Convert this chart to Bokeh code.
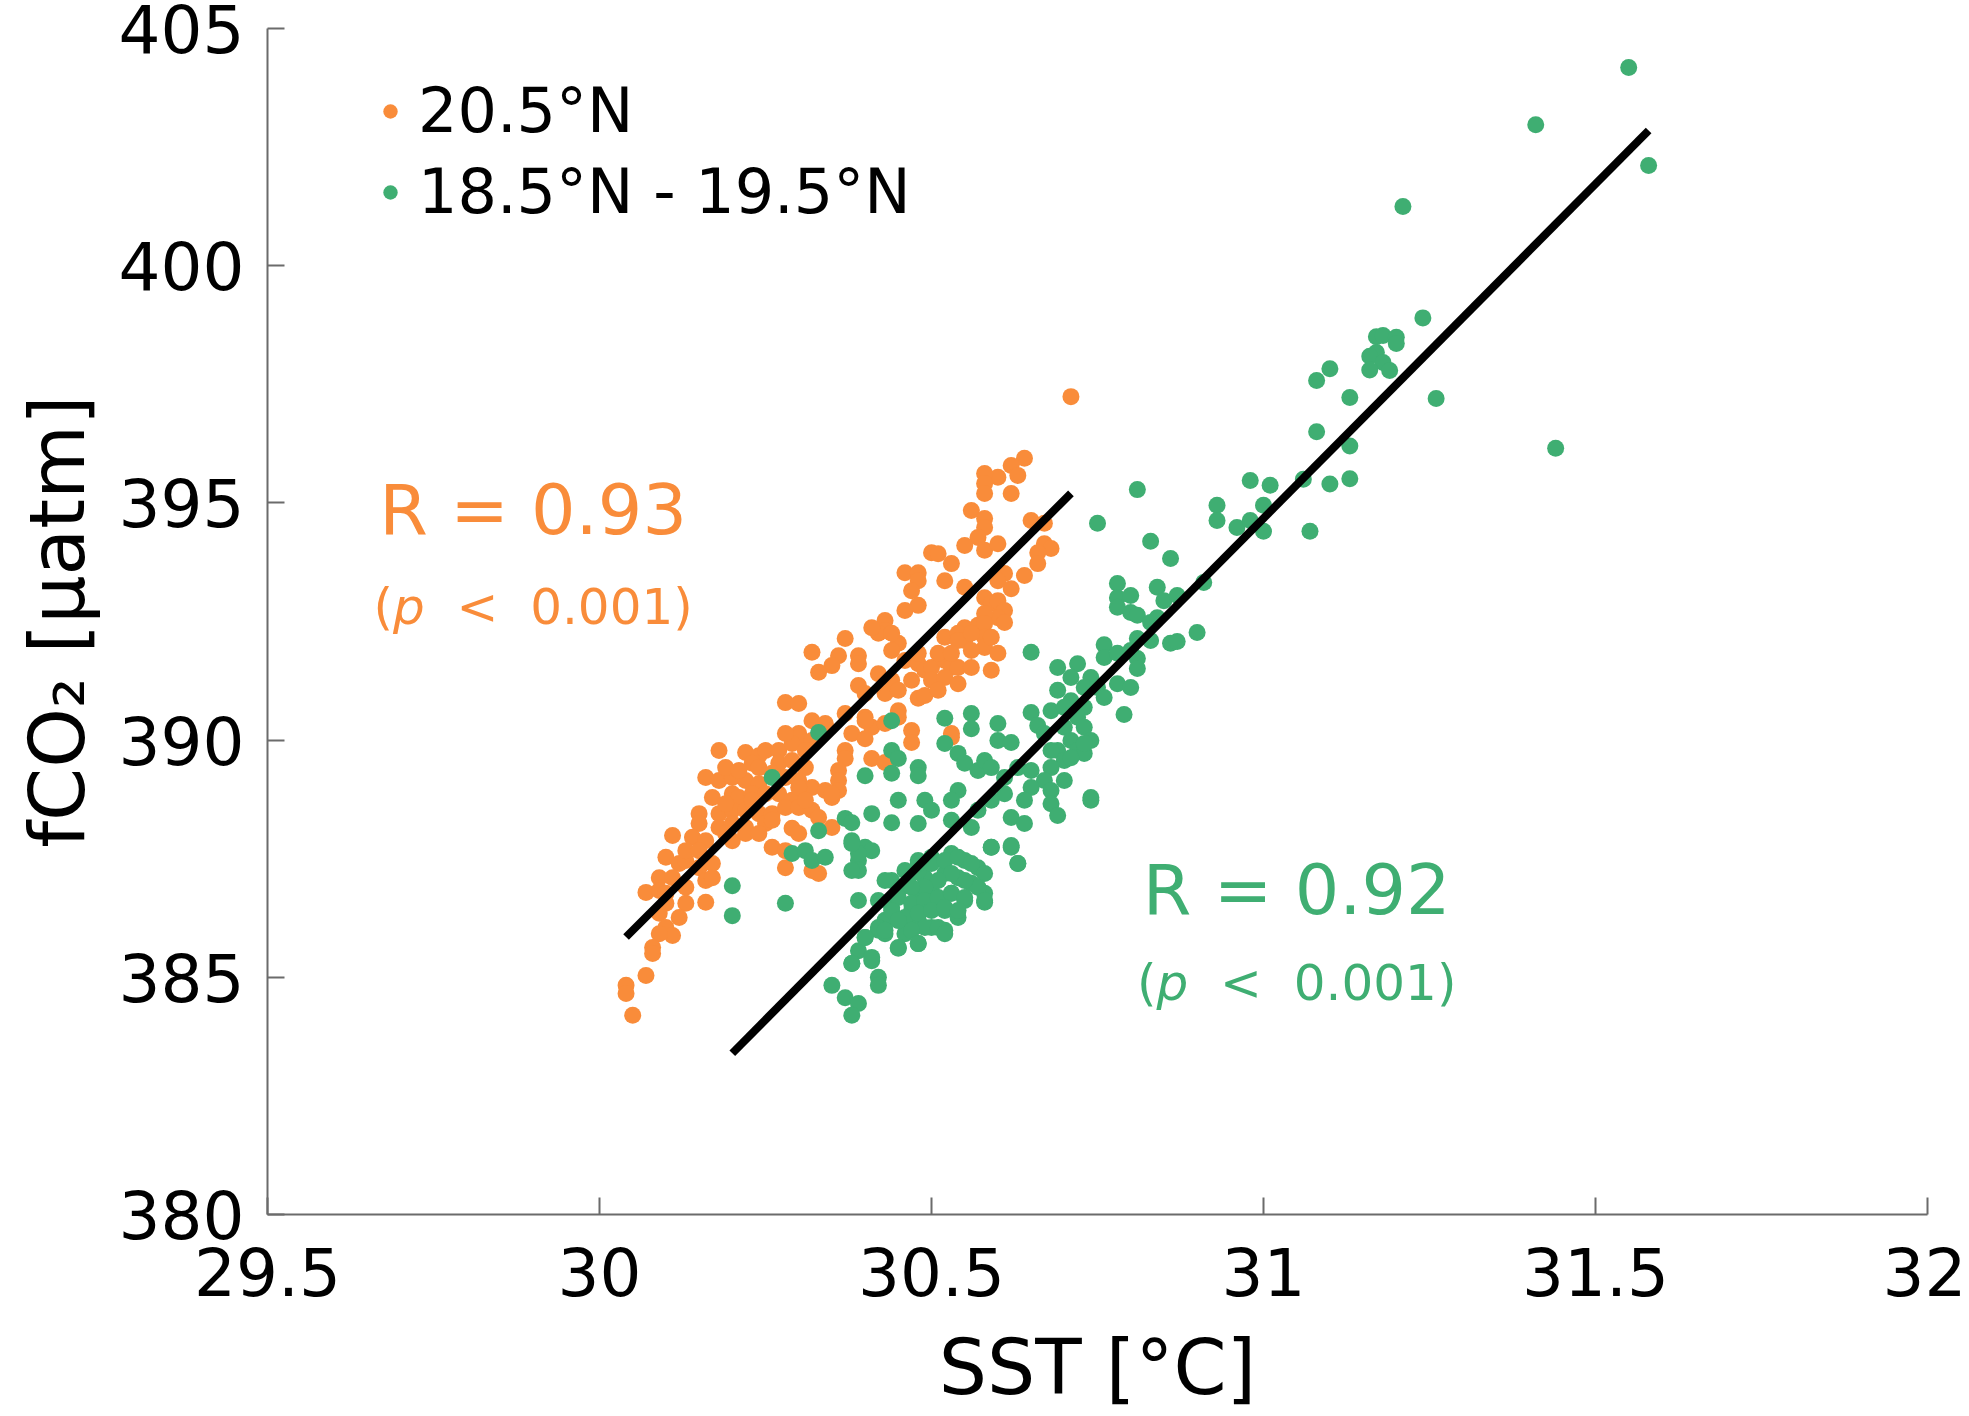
from bokeh.plotting import figure
from bokeh.models import FixedTicker, Legend, LegendItem, Label, ColumnDataSource, Range1d
from bokeh.embed import file_html
from bokeh.resources import INLINE

# ---------------- data ----------------
series_names = ["20.5°N", "18.5°N - 19.5°N"]

north_sst = [30.71, 30.64, 30.62, 30.63, 30.60, 30.58, 30.58, 30.58, 30.62, 30.56, 30.58, 30.58, 30.65, 30.67,
             30.57, 30.55, 30.58, 30.60, 30.67, 30.68, 30.66, 30.66, 30.50, 30.51, 30.53, 30.52, 30.64, 30.61,
             30.60, 30.62, 30.55, 30.46, 30.48, 30.48, 30.47, 30.48, 30.46, 30.58, 30.59, 30.60, 30.61, 30.60,
             30.58, 30.55, 30.57, 30.58, 30.61, 30.43, 30.43, 30.42, 30.45, 30.52, 30.54, 30.55, 30.58, 30.58,
             30.54, 30.37, 30.32, 30.36, 30.39, 30.39, 30.35, 30.33, 30.44, 30.46, 30.48, 30.49, 30.50, 30.52,
             30.53, 30.54, 30.59, 30.42, 30.44, 30.47, 30.50, 30.52, 30.39, 30.40, 30.43, 30.45, 30.48, 30.49,
             30.28, 30.30, 30.37, 30.40, 30.41, 30.45, 30.47, 30.53, 30.30, 30.34, 30.40, 30.43, 30.45, 30.34,
             30.30, 30.32, 30.38, 30.40, 30.37, 30.37, 30.36, 30.36, 30.36, 30.35, 30.41, 30.47, 30.43, 30.18,
             30.22, 30.24, 30.25, 30.27, 30.29, 30.31, 30.23, 30.24, 30.27, 30.29, 30.31, 30.16, 30.18, 30.20,
             30.22, 30.24, 30.28, 30.30, 30.32, 30.17, 30.20, 30.21, 30.23, 30.25, 30.27, 30.29, 30.34, 30.35,
             30.15, 30.18, 30.20, 30.22, 30.24, 30.26, 30.28, 30.30, 30.32, 30.33, 30.35, 30.15, 30.18, 30.20,
             30.22, 30.25, 30.26, 30.29, 30.20, 30.22, 30.14, 30.16, 30.11, 30.30, 30.26, 30.28, 30.28, 30.32,
             30.33, 30.10, 30.12, 30.13, 30.15, 30.17, 30.09, 30.11, 30.16, 30.17, 30.07, 30.09, 30.10, 30.13,
             30.16, 30.09, 30.12, 30.10, 30.11, 30.09, 30.08, 30.08, 30.07, 30.04, 30.04, 30.05, 30.53,
             30.19, 30.21, 30.26, 30.30, 30.23, 30.19, 30.31, 30.24, 30.19, 30.13, 30.15, 30.13, 30.10, 30.28,
             30.32, 30.41, 30.44, 30.48, 30.51, 30.53, 30.56, 30.56, 30.51, 30.54, 30.56, 30.59, 30.60]
north_fco2 = [397.24, 395.94, 395.79, 395.58, 395.54, 395.62, 395.41, 395.20, 395.20, 394.84, 394.67, 394.48, 394.63, 394.57,
              394.27, 394.10, 394.00, 394.14, 394.14, 394.04, 393.95, 393.72, 393.95, 393.93, 393.72, 393.36, 393.47, 393.51,
              393.36, 393.19, 393.22, 393.53, 393.53, 393.36, 393.15, 392.84, 392.73, 393.00, 392.88, 392.94, 392.73, 392.58,
              392.67, 392.37, 392.42, 392.46, 392.48, 392.52, 392.31, 392.25, 392.04, 392.17, 392.25, 392.10, 392.17, 391.95,
              392.10, 392.14, 391.85, 391.78, 391.78, 391.61, 391.57, 391.43, 391.89, 391.68, 391.61, 391.47, 391.53, 391.68,
              391.53, 391.53, 391.47, 391.40, 391.26, 391.26, 391.26, 391.32, 391.15, 390.98, 390.98, 391.05, 390.88, 390.94,
              390.79, 390.77, 390.56, 390.48, 390.27, 390.62, 390.20, 390.14, 390.14, 390.35, 390.41, 390.35, 390.48, 390.31,
              390.06, 389.99, 390.14, 390.03, 389.78, 389.61, 389.36, 389.15, 388.94, 388.79, 389.61, 389.95, 389.53, 389.78,
              389.74, 389.67, 389.78, 389.78, 389.93, 389.78, 389.51, 389.42, 389.51, 389.57, 389.42, 389.21, 389.15, 389.21,
              389.15, 389.08, 389.21, 389.15, 389.00, 388.79, 388.87, 388.79, 388.87, 388.87, 388.87, 388.73, 388.94, 388.87,
              388.45, 388.45, 388.52, 388.52, 388.45, 388.45, 388.58, 388.58, 388.52, 388.37, 388.16, 388.24, 388.16, 388.24,
              388.16, 388.24, 388.31, 388.14, 387.88, 388.03, 387.95, 387.88, 387.99, 388.03, 387.74, 387.67, 387.31, 387.25,
              387.19, 387.53, 387.40, 387.46, 387.31, 387.40, 387.10, 387.10, 387.04, 387.10, 386.79, 386.83, 386.56, 386.56,
              386.58, 386.35, 386.26, 386.05, 385.88, 385.92, 385.63, 385.50, 385.04, 384.83, 384.66, 384.20, 390.06,
              389.42, 389.36, 389.30, 389.00, 388.73, 388.66, 388.73, 388.03, 388.03, 387.67, 387.67, 386.90, 386.77, 390.14,
              390.41, 392.37, 392.25, 391.83, 391.83, 391.83, 391.89, 391.53, 391.05, 391.19, 392.25, 392.17, 391.83]

south_sst = [31.55, 31.41, 31.58, 31.21, 31.24, 31.17, 31.18, 31.20, 31.20, 31.17, 31.16, 31.18, 31.16, 31.19,
             31.10, 31.08, 31.13, 31.26, 31.08, 31.13, 31.44, 30.98, 31.01, 31.06, 31.10, 31.13, 30.93, 30.93,
             31.00, 30.96, 30.98, 31.00, 31.07, 30.81, 30.75, 30.83, 30.86, 30.78, 30.78, 30.80, 30.78, 30.80,
             30.81, 30.84, 30.85, 30.87, 30.91, 30.83, 30.84, 30.83, 30.86, 30.87, 30.90, 30.81, 30.76, 30.76,
             30.78, 30.80, 30.81, 30.81, 30.69, 30.72, 30.71, 30.74, 30.73, 30.75, 30.78, 30.80, 30.69, 30.76,
             30.71, 30.73, 30.79, 30.68, 30.72, 30.70, 30.73, 30.74, 30.71, 30.69, 30.72, 30.73, 30.70, 30.68,
             30.70, 30.74, 30.52, 30.56, 30.56, 30.60, 30.44, 30.33, 30.65, 30.66, 30.70, 30.52, 30.60, 30.62,
             30.67, 30.68, 30.73, 30.71, 30.44, 30.45, 30.44, 30.48, 30.48, 30.40, 30.54, 30.55, 30.57, 30.58,
             30.59, 30.61, 30.63, 30.65, 30.67, 30.65, 30.68, 30.74, 30.64, 30.61, 30.59, 30.57, 30.68, 30.69,
             30.62, 30.64, 30.54, 30.53, 30.49, 30.50, 30.48, 30.53, 30.56, 30.41, 30.44, 30.45, 30.37, 30.38,
             30.33, 30.38, 30.40, 30.41, 30.39, 30.39, 30.29, 30.31, 30.32, 30.34, 30.59, 30.62, 30.63, 30.44,
             30.39, 30.20, 30.28, 30.20, 30.48, 30.50, 30.53, 30.55, 30.57, 30.58, 30.47, 30.49, 30.52, 30.54,
             30.56, 30.58, 30.45, 30.48, 30.50, 30.53, 30.55, 30.58, 30.44, 30.47, 30.49, 30.52, 30.54, 30.45,
             30.48, 30.50, 30.52, 30.43, 30.42, 30.43, 30.46, 30.48, 30.45, 30.40, 30.39, 30.38, 30.41, 30.35,
             30.42, 30.42, 30.37, 30.39, 30.38, 30.42, 30.26, 30.65,
             30.48, 30.50, 30.52, 30.54, 30.56, 30.57, 30.55, 30.53, 30.51, 30.49, 30.47, 30.45, 30.47, 30.49,
             30.51, 30.53, 30.55, 30.58, 30.44, 30.46, 30.48, 30.50, 30.52, 30.54, 30.49, 30.51, 30.52, 30.47,
             30.45, 30.39, 30.38, 30.38, 30.43, 30.62, 30.59, 30.63, 30.42, 30.43, 30.45, 30.48, 30.41, 30.38,
             30.40, 30.48, 30.46]
south_fco2 = [404.18, 402.97, 402.11, 401.25, 398.90, 398.50, 398.53, 398.49, 398.36, 398.17, 398.09, 397.96, 397.80, 397.79,
              397.83, 397.58, 397.22, 397.20, 396.50, 396.20, 396.15, 395.47, 395.37, 395.50, 395.40, 395.51, 394.95, 394.63,
              394.95, 394.48, 394.63, 394.40, 394.40, 395.28, 394.57, 394.19, 393.83, 393.30, 393.00, 393.05, 392.80, 392.69,
              392.63, 393.22, 392.94, 393.05, 393.32, 392.48, 392.58, 392.10, 392.04, 392.08, 392.27, 392.14, 392.01, 391.74,
              391.83, 391.89, 391.72, 391.51, 391.53, 391.61, 391.32, 391.32, 391.11, 391.11, 391.19, 391.11, 391.05, 390.90,
              390.83, 390.69, 390.54, 390.62, 390.48, 390.27, 390.27, 389.99, 389.99, 389.78, 389.78, 389.72, 389.57, 389.42,
              389.15, 388.79, 390.46, 390.56, 390.24, 390.35, 390.41, 390.16, 390.58, 390.31, 390.69, 389.93, 389.99, 389.95,
              390.14, 389.78, 389.93, 389.63, 389.78, 389.61, 389.30, 389.42, 389.25, 389.25, 389.72, 389.51, 389.36, 389.57,
              389.42, 389.21, 389.42, 389.36, 389.15, 389.00, 388.94, 388.73, 388.73, 388.87, 388.73, 388.52, 388.66, 388.41,
              388.37, 388.24, 388.94, 388.73, 388.73, 388.52, 388.24, 388.31, 388.16, 388.45, 388.26, 388.73, 388.35, 388.26,
              388.09, 387.88, 387.74, 387.67, 387.46, 387.25, 387.61, 387.67, 387.46, 387.53, 387.74, 387.74, 387.40, 387.04,
              386.62, 386.93, 386.56, 386.30, 387.46, 387.53, 387.61, 387.46, 387.31, 387.19, 387.19, 387.10, 387.19, 387.10,
              386.98, 386.77, 386.83, 386.77, 386.83, 386.77, 386.62, 386.58, 386.47, 386.41, 386.47, 386.41, 386.26, 386.20,
              386.20, 386.05, 385.99, 386.20, 385.99, 385.92, 385.92, 385.71, 385.61, 385.84, 385.56, 385.29, 385.35, 384.83,
              385.00, 384.83, 384.57, 384.45, 384.20, 386.62, 389.21, 391.85,
              387.25, 387.40, 387.46, 387.53, 387.40, 386.90, 387.04, 387.19, 387.04, 386.90, 386.90, 386.68, 386.56, 386.62,
              386.68, 386.77, 386.68, 386.62, 386.41, 386.26, 386.35, 386.41, 386.47, 386.41, 386.05, 386.05, 385.92, 385.99,
              386.20, 387.61, 387.25, 387.82, 387.04, 387.78, 387.74, 387.40, 386.05, 385.99, 385.63, 385.71, 385.42, 385.29,
              385.84, 387.40, 387.25]

# regression line end points (SST, fCO2)
north_fit_sst = [30.04, 30.71]
north_fit_fco2 = [385.85, 395.20]
south_fit_sst = [30.20, 31.58]
south_fit_fco2 = [383.40, 402.85]

north_stats = ["R = 0.93", "p", "\u00a0\u00a0<\u00a0\u00a00.001)"]
south_stats = ["R = 0.92", "p", "\u00a0\u00a0<\u00a0\u00a00.001)"]

x_ticks = [29.5, 30.0, 30.5, 31.0, 31.5, 32.0]
x_tick_labels = ["29.5", "30", "30.5", "31", "31.5", "32"]
y_ticks = [380, 385, 390, 395, 400, 405]
y_tick_labels = ["380", "385", "390", "395", "400", "405"]

# ---------------- style ----------------
ORANGE = "#F98C3A"
GREEN = "#3FAE72"
FONT = "DejaVu Sans"
AXIS_COLOR = "#6b6b6b"

p = figure(width=1966, height=1414, output_backend="svg", toolbar_location=None,
           x_range=Range1d(29.5, 32.0), y_range=Range1d(380, 405),
           min_border_left=267, min_border_right=39, min_border_top=28, min_border_bottom=200)
p.grid.visible = False
p.outline_line_color = None
p.background_fill_color = "white"
p.border_fill_color = "white"

src_n = ColumnDataSource(dict(x=north_sst, y=north_fco2))
src_s = ColumnDataSource(dict(x=south_sst, y=south_fco2))

r_n = p.scatter("x", "y", source=src_n, size=17, fill_color=ORANGE, line_color=None)
r_s = p.scatter("x", "y", source=src_s, size=17, fill_color=GREEN, line_color=None)

p.line(north_fit_sst, north_fit_fco2, line_color="black", line_width=8)
p.line(south_fit_sst, south_fit_fco2, line_color="black", line_width=8)

for ax in (p.xaxis[0], p.yaxis[0]):
    ax.axis_line_color = AXIS_COLOR
    ax.axis_line_width = 2
    ax.major_tick_line_color = AXIS_COLOR
    ax.major_tick_line_width = 2
    ax.major_tick_in = 17
    ax.major_tick_out = 0
    ax.minor_tick_line_color = None
    ax.major_label_text_font = FONT
    ax.major_label_text_font_size = "66px"
    ax.major_label_text_color = "black"
    ax.axis_label_text_font = FONT
    ax.axis_label_text_font_size = "76px"
    ax.axis_label_text_font_style = "normal"
    ax.axis_label_text_color = "black"

p.xaxis.ticker = FixedTicker(ticks=x_ticks)
p.xaxis.major_label_overrides = {t: l for t, l in zip(x_ticks, x_tick_labels)}
p.yaxis.ticker = FixedTicker(ticks=y_ticks)
p.yaxis.major_label_overrides = {t: l for t, l in zip(y_ticks, y_tick_labels)}
p.xaxis.axis_label = "SST [°C]"
p.yaxis.axis_label = "fCO₂ [μatm]"
p.xaxis.major_label_standoff = 32
p.xaxis.axis_label_standoff = 24
p.yaxis.major_label_standoff = 23
p.yaxis.axis_label_standoff = 14

legend = Legend(items=[LegendItem(label=series_names[0], renderers=[r_n]),
                       LegendItem(label=series_names[1], renderers=[r_s])],
                location=(105, 986), orientation="vertical", padding=0, margin=0, spacing=8,
                glyph_width=36, glyph_height=70, label_height=70, label_standoff=10,
                label_text_font=FONT, label_text_font_size="62px", label_text_color="black",
                border_line_color=None, background_fill_alpha=0)
p.add_layout(legend)


def stats_block(cx, cy_r, cy_p, texts, color):
    p.add_layout(Label(x=cx, y=cy_r, text=texts[0], text_align="center", text_baseline="middle",
                       text_font=FONT, text_font_size="70px", text_color=color))
    fs = 50
    w_open = 0.390 * fs
    w_p = 0.635 * fs
    w_rest = 5.362 * fs
    start = -(w_open + w_p + w_rest) / 2
    p.add_layout(Label(x=cx, y=cy_p, x_offset=start, text="(", text_align="left", text_baseline="middle",
                       text_font=FONT, text_font_size=f"{fs}px", text_color=color))
    p.add_layout(Label(x=cx, y=cy_p, x_offset=start + w_open, text=texts[1], text_align="left",
                       text_baseline="middle", text_font=FONT, text_font_size=f"{fs}px",
                       text_font_style="italic", text_color=color))
    p.add_layout(Label(x=cx, y=cy_p, x_offset=start + w_open + w_p, text=texts[2], text_align="left",
                       text_baseline="middle", text_font=FONT, text_font_size=f"{fs}px", text_color=color))


stats_block(29.90, 394.85, 392.80, north_stats, ORANGE)
stats_block(31.05, 386.85, 384.87, south_stats, GREEN)

open("out.html", "w").write(file_html(p, INLINE))
